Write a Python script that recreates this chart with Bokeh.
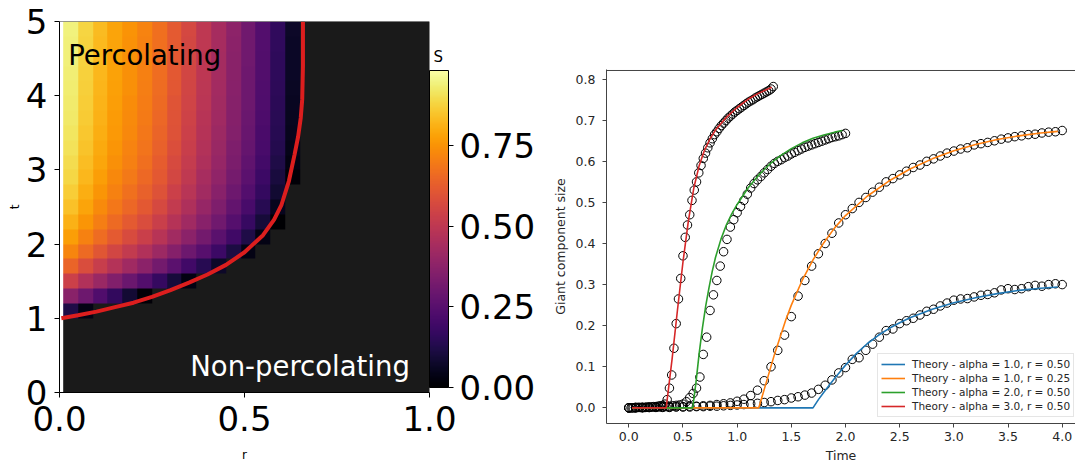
import numpy as np
from bokeh.plotting import figure
from bokeh.models import (LinearColorMapper, ColorBar, FixedTicker, Span,
                          Legend, LegendItem, Range1d, PrintfTickFormatter, Label)
from bokeh.palettes import Inferno256
from bokeh.layouts import row
from bokeh.embed import file_html
from bokeh.resources import INLINE

FONT = "DejaVu Sans"

# ---------------- left panel: S(r, t) heat map ----------------
heat_r_centers = [0.03, 0.07, 0.11, 0.15, 0.19, 0.23, 0.27, 0.31, 0.35, 0.39, 0.43, 0.47, 0.51,
                  0.55, 0.59, 0.63, 0.67, 0.71, 0.75, 0.79, 0.83, 0.87, 0.91, 0.95, 0.99]
heat_t_centers = [0.1, 0.3, 0.5, 0.7, 0.9, 1.1, 1.3, 1.5, 1.7, 1.9, 2.1, 2.3, 2.5, 2.7, 2.9,
                  3.1, 3.3, 3.5, 3.7, 3.9, 4.1, 4.3, 4.5, 4.7, 4.9]
N = None
# rows: t = 1.1 ... 4.9 ; columns: r = 0.03 ... 0.63 (None = non-percolating)
S_table_t = [1.1, 1.3, 1.5, 1.7, 1.9, 2.1, 2.3, 2.5, 2.7, 2.9, 3.1, 3.3, 3.5, 3.7, 3.9,
             4.1, 4.3, 4.5, 4.7, 4.9]
S_table = [
    [0.121, 0.036, N, N, N, N, N, N, N, N, N, N, N, N, N, N],
    [0.372, 0.300, 0.231, 0.164, 0.091, 0.014, N, N, N, N, N, N, N, N, N, N],
    [0.534, 0.466, 0.407, 0.350, 0.293, 0.236, 0.170, 0.100, 0.033, N, N, N, N, N, N, N],
    [0.641, 0.578, 0.524, 0.472, 0.423, 0.375, 0.318, 0.258, 0.199, 0.140, 0.072, N, N, N, N, N],
    [0.719, 0.657, 0.603, 0.554, 0.511, 0.467, 0.416, 0.359, 0.302, 0.247, 0.185, 0.115, 0.035, N, N, N],
    [0.773, 0.712, 0.661, 0.614, 0.573, 0.532, 0.483, 0.428, 0.374, 0.318, 0.257, 0.192, 0.121, 0.036, N, N],
    [0.813, 0.754, 0.703, 0.656, 0.617, 0.578, 0.531, 0.477, 0.423, 0.366, 0.307, 0.243, 0.176, 0.099, 0.003, N],
    [0.843, 0.783, 0.732, 0.687, 0.650, 0.612, 0.565, 0.512, 0.458, 0.401, 0.342, 0.278, 0.213, 0.139, 0.053, N],
    [0.866, 0.805, 0.755, 0.710, 0.673, 0.636, 0.591, 0.537, 0.484, 0.426, 0.367, 0.303, 0.239, 0.167, 0.085, N],
    [0.884, 0.823, 0.773, 0.728, 0.691, 0.655, 0.610, 0.557, 0.503, 0.444, 0.385, 0.322, 0.258, 0.186, 0.106, 0.013],
    [0.896, 0.836, 0.787, 0.741, 0.706, 0.670, 0.624, 0.571, 0.517, 0.458, 0.399, 0.335, 0.271, 0.200, 0.121, 0.031],
    [0.906, 0.846, 0.797, 0.752, 0.716, 0.681, 0.636, 0.582, 0.528, 0.469, 0.409, 0.345, 0.281, 0.211, 0.131, 0.043],
    [0.914, 0.854, 0.805, 0.760, 0.725, 0.689, 0.644, 0.591, 0.536, 0.477, 0.417, 0.353, 0.289, 0.218, 0.139, 0.051],
    [0.921, 0.861, 0.811, 0.766, 0.731, 0.696, 0.651, 0.597, 0.543, 0.483, 0.423, 0.359, 0.295, 0.224, 0.144, 0.057],
    [0.926, 0.866, 0.816, 0.772, 0.736, 0.701, 0.656, 0.602, 0.548, 0.488, 0.428, 0.364, 0.300, 0.228, 0.149, 0.061],
    [0.930, 0.870, 0.820, 0.776, 0.741, 0.705, 0.660, 0.607, 0.552, 0.492, 0.431, 0.367, 0.303, 0.232, 0.152, 0.064],
    [0.933, 0.873, 0.824, 0.779, 0.744, 0.709, 0.664, 0.610, 0.555, 0.495, 0.434, 0.370, 0.305, 0.234, 0.154, 0.066],
    [0.936, 0.876, 0.826, 0.781, 0.746, 0.711, 0.666, 0.612, 0.558, 0.497, 0.437, 0.372, 0.307, 0.236, 0.156, 0.068],
    [0.938, 0.878, 0.828, 0.783, 0.748, 0.713, 0.668, 0.615, 0.560, 0.499, 0.439, 0.374, 0.309, 0.238, 0.158, 0.069],
    [0.940, 0.880, 0.830, 0.785, 0.750, 0.715, 0.670, 0.616, 0.562, 0.501, 0.440, 0.376, 0.310, 0.240, 0.160, 0.070],
]
S_max = 0.982
cbar_ticks = [0.0, 0.25, 0.5, 0.75]

boundary_r = [0.005, 0.05, 0.10, 0.15, 0.20, 0.25, 0.30, 0.35, 0.40, 0.45, 0.50, 0.55, 0.58,
              0.60, 0.62, 0.635, 0.645, 0.652, 0.656, 0.658, 0.658]
boundary_t = [1.00, 1.04, 1.09, 1.15, 1.21, 1.29, 1.38, 1.48, 1.59, 1.72, 1.89, 2.12, 2.33,
              2.53, 2.85, 3.20, 3.45, 3.70, 3.95, 4.40, 5.00]

# ---------------- right panel: giant component vs time ----------------
sim_time_a1 = [0.0, 0.0625, 0.125, 0.1875, 0.25, 0.3125, 0.375, 0.4375, 0.5, 0.5625, 0.625, 0.6875,
               0.75, 0.8125, 0.875, 0.9375, 1.0, 1.0625, 1.125, 1.1875, 1.25, 1.3125, 1.375, 1.4375,
               1.5, 1.5625, 1.625, 1.6875, 1.75, 1.8125, 1.875, 1.9375, 2.0, 2.0625, 2.125, 2.1875,
               2.25, 2.3125, 2.375, 2.4375, 2.5, 2.5625, 2.625, 2.6875, 2.75, 2.8125, 2.875, 2.9375,
               3.0, 3.0625, 3.125, 3.1875, 3.25, 3.3125, 3.375, 3.4375, 3.5, 3.5625, 3.625, 3.6875,
               3.75, 3.8125, 3.875, 3.9375, 4.0]
sim_time_a2 = [0.0, 0.0312, 0.0625, 0.0938, 0.125, 0.1562, 0.1875, 0.2188, 0.25, 0.2812, 0.3125,
               0.3438, 0.375, 0.4062, 0.4375, 0.4688, 0.5, 0.5312, 0.5625, 0.5938, 0.625, 0.6562,
               0.6875, 0.7188, 0.75, 0.7812, 0.8125, 0.8438, 0.875, 0.9062, 0.9375, 0.9688, 1.0,
               1.0312, 1.0625, 1.0938, 1.125, 1.1562, 1.1875, 1.2188, 1.25, 1.2812, 1.3125, 1.3438,
               1.375, 1.4062, 1.4375, 1.4688, 1.5, 1.5312, 1.5625, 1.5938, 1.625, 1.6562, 1.6875,
               1.7188, 1.75, 1.7812, 1.8125, 1.8438, 1.875, 1.9062, 1.9375, 1.9688, 2.0]
sim_time_a3 = [0.0, 0.0208, 0.0417, 0.0625, 0.0833, 0.1042, 0.125, 0.1458, 0.1667, 0.1875, 0.2083,
               0.2292, 0.25, 0.2708, 0.2917, 0.3125, 0.3333, 0.3542, 0.375, 0.3958, 0.4167, 0.4375,
               0.4583, 0.4792, 0.5, 0.5208, 0.5417, 0.5625, 0.5833, 0.6042, 0.625, 0.6458, 0.6667,
               0.6875, 0.7083, 0.7292, 0.75, 0.7708, 0.7917, 0.8125, 0.8333, 0.8542, 0.875, 0.8958,
               0.9167, 0.9375, 0.9583, 0.9792, 1.0, 1.0208, 1.0417, 1.0625, 1.0833, 1.1042, 1.125,
               1.1458, 1.1667, 1.1875, 1.2083, 1.2292, 1.25, 1.2708, 1.2917, 1.3125, 1.3333]

sim_S_a1_r050 = [0.000, 0.000, 0.000, 0.001, 0.001, 0.001, 0.001, 0.002, 0.002, 0.002,
                 0.003, 0.003, 0.004, 0.004, 0.005, 0.006, 0.007, 0.008, 0.010, 0.011,
                 0.013, 0.015, 0.018, 0.020, 0.024, 0.027, 0.031, 0.036, 0.045, 0.055,
                 0.068, 0.085, 0.098, 0.118, 0.122, 0.140, 0.155, 0.172, 0.188, 0.192,
                 0.205, 0.212, 0.218, 0.226, 0.235, 0.240, 0.248, 0.255, 0.262, 0.265,
                 0.266, 0.270, 0.274, 0.276, 0.280, 0.287, 0.290, 0.288, 0.290, 0.295,
                 0.298, 0.296, 0.300, 0.302, 0.300]
sim_S_a1_r025 = [0.000, 0.001, 0.001, 0.001, 0.002, 0.002, 0.002, 0.003, 0.003, 0.004,
                 0.004, 0.005, 0.006, 0.008, 0.010, 0.012, 0.016, 0.021, 0.030, 0.043,
                 0.066, 0.100, 0.140, 0.177, 0.222, 0.272, 0.310, 0.345, 0.375, 0.400,
                 0.425, 0.450, 0.470, 0.485, 0.500, 0.512, 0.525, 0.537, 0.550, 0.558,
                 0.567, 0.576, 0.585, 0.591, 0.600, 0.606, 0.613, 0.620, 0.625, 0.630,
                 0.633, 0.640, 0.643, 0.646, 0.650, 0.654, 0.657, 0.660, 0.662, 0.665,
                 0.666, 0.669, 0.671, 0.672, 0.675]
sim_S_a2_r050 = [0.000, 0.000, 0.000, 0.001, 0.001, 0.001, 0.001, 0.002, 0.002, 0.002,
                 0.003, 0.003, 0.004, 0.005, 0.006, 0.007, 0.009, 0.015, 0.025, 0.035,
                 0.048, 0.075, 0.130, 0.172, 0.237, 0.275, 0.310, 0.345, 0.380, 0.410,
                 0.440, 0.458, 0.475, 0.490, 0.505, 0.520, 0.535, 0.546, 0.555, 0.563,
                 0.572, 0.580, 0.588, 0.595, 0.600, 0.604, 0.609, 0.613, 0.618, 0.622,
                 0.626, 0.630, 0.634, 0.637, 0.640, 0.643, 0.646, 0.649, 0.652, 0.655,
                 0.658, 0.660, 0.662, 0.665, 0.668]
sim_S_a3_r050 = [0.000, 0.000, 0.000, 0.001, 0.001, 0.001, 0.001, 0.001, 0.002, 0.002,
                 0.002, 0.003, 0.003, 0.004, 0.005, 0.006, 0.009, 0.020, 0.048, 0.080,
                 0.145, 0.205, 0.265, 0.315, 0.370, 0.415, 0.445, 0.470, 0.505, 0.530,
                 0.550, 0.572, 0.590, 0.607, 0.620, 0.633, 0.645, 0.655, 0.665, 0.672,
                 0.680, 0.687, 0.693, 0.699, 0.705, 0.710, 0.715, 0.720, 0.724, 0.728,
                 0.732, 0.736, 0.740, 0.744, 0.747, 0.750, 0.754, 0.757, 0.760, 0.763,
                 0.766, 0.769, 0.772, 0.776, 0.782]

th_t_a1_r050 = [0.03, 1.7, 1.75, 1.8, 1.85, 1.9, 1.95, 2.0, 2.1, 2.2, 2.3, 2.4, 2.5, 2.6, 2.8,
                3.0, 3.2, 3.4, 3.6, 3.8, 3.96]
th_S_a1_r050 = [0.0, 0.0, 0.02, 0.038, 0.055, 0.072, 0.088, 0.104, 0.132, 0.156, 0.176, 0.193,
                0.207, 0.22, 0.24, 0.256, 0.268, 0.278, 0.286, 0.291, 0.294]
th_t_a1_r025 = [0.03, 1.2, 1.25, 1.3, 1.35, 1.4, 1.45, 1.5, 1.6, 1.7, 1.8, 1.9, 2.0, 2.2, 2.4,
                2.6, 2.8, 3.0, 3.2, 3.4, 3.6, 3.8, 3.96]
th_S_a1_r025 = [0.0, 0.0, 0.045, 0.09, 0.135, 0.175, 0.215, 0.25, 0.31, 0.36, 0.402, 0.438,
                0.468, 0.515, 0.552, 0.582, 0.606, 0.626, 0.641, 0.653, 0.662, 0.669, 0.673]
th_t_a2_r050 = [0.03, 0.59, 0.62, 0.65, 0.68, 0.71, 0.74, 0.77, 0.8, 0.85, 0.9, 0.95, 1.0, 1.1,
                1.2, 1.3, 1.4, 1.5, 1.6, 1.7, 1.8, 1.9, 1.97]
th_S_a2_r050 = [0.0, 0.0, 0.062, 0.134, 0.195, 0.248, 0.292, 0.332, 0.366, 0.41, 0.445, 0.472,
                0.495, 0.535, 0.567, 0.593, 0.614, 0.631, 0.645, 0.656, 0.664, 0.671, 0.675]
th_t_a3_r050 = [0.03, 0.345, 0.4, 0.45, 0.5, 0.55, 0.6, 0.65, 0.7, 0.75, 0.8, 0.9, 1.0, 1.1,
                1.2, 1.3, 1.32]
th_S_a3_r050 = [0.0, 0.0, 0.12, 0.24, 0.355, 0.455, 0.535, 0.59, 0.628, 0.655, 0.676, 0.707,
                0.731, 0.751, 0.766, 0.778, 0.78]

legend_labels = ["Theory - alpha = 1.0, r = 0.50", "Theory - alpha = 1.0, r = 0.25",
                 "Theory - alpha = 2.0, r = 0.50", "Theory - alpha = 3.0, r = 0.50"]
line_colors = ["#1f77b4", "#ff7f0e", "#2ca02c", "#d62728"]
x_ticks_right = [0.0, 0.5, 1.0, 1.5, 2.0, 2.5, 3.0, 3.5, 4.0]
y_ticks_right = [0.0, 0.1, 0.2, 0.3, 0.4, 0.5, 0.6, 0.7, 0.8]


def no_frame_align(fig):
    try:
        fig.frame_align = False
    except Exception:
        pass


# ================= build left figure =================
grid = np.full((len(heat_t_centers), len(heat_r_centers)), np.nan)
for t_val, vals in zip(S_table_t, S_table):
    i = heat_t_centers.index(t_val)
    for j, v in enumerate(vals):
        if v is not None:
            grid[i, j] = v
cell_r = heat_r_centers[1] - heat_r_centers[0]
cell_t = heat_t_centers[1] - heat_t_centers[0]

mapper = LinearColorMapper(palette=Inferno256, low=0.0, high=S_max, nan_color="#1a1a1a")

p1 = figure(width=540, height=465, x_range=Range1d(0, 1), y_range=Range1d(0, 5),
            output_backend="svg", toolbar_location=None,
            min_border_left=59, min_border_right=111, min_border_top=21, min_border_bottom=73)
no_frame_align(p1)
p1.grid.visible = False
p1.outline_line_color = None
p1.image(image=[grid], x=heat_r_centers[0] - cell_r / 2, y=heat_t_centers[0] - cell_t / 2,
         dw=cell_r * len(heat_r_centers), dh=cell_t * len(heat_t_centers), color_mapper=mapper)
p1.line(boundary_r, boundary_t, line_color="#dc1e1e", line_width=4)

p1.add_layout(Label(x=0.0235, y=4.555, text="Percolating", text_font=FONT, text_font_size="27.5px",
                    text_color="black", text_baseline="alphabetic"))
p1.add_layout(Label(x=0.3535, y=0.354, text="Non-percolating", text_font=FONT,
                    text_font_size="27.5px", text_color="white", text_baseline="alphabetic"))
p1.add_layout(Span(location=5, dimension="width", line_color="#333333", line_width=1))

p1.xaxis.ticker = FixedTicker(ticks=[0.0, 0.5, 1.0])
p1.xaxis.formatter = PrintfTickFormatter(format="%.1f")
p1.yaxis.ticker = FixedTicker(ticks=[0, 1, 2, 3, 4, 5])
p1.yaxis.formatter = PrintfTickFormatter(format="%d")
p1.xaxis.axis_label = "r"
p1.yaxis.axis_label = "t"
for ax in (p1.xaxis, p1.yaxis):
    ax.major_label_text_font = FONT
    ax.major_label_text_font_size = "34px"
    ax.major_label_text_color = "black"
    ax.major_tick_out = 5
    ax.major_tick_in = 0
    ax.minor_tick_out = 0
    ax.minor_tick_in = 0
    ax.axis_line_color = "black"
    ax.major_tick_line_color = "black"
    ax.axis_label_text_font = FONT
    ax.axis_label_text_font_size = "12px"
    ax.axis_label_text_font_style = "normal"
    ax.axis_label_text_color = "black"
p1.xaxis.major_label_standoff = 8
p1.xaxis.axis_label_standoff = 14
p1.yaxis.major_label_standoff = 7
p1.yaxis.axis_label_standoff = 1

cbar = ColorBar(color_mapper=mapper, ticker=FixedTicker(ticks=cbar_ticks),
                formatter=PrintfTickFormatter(format="%.2f"),
                major_label_text_font=FONT, major_label_text_font_size="34px",
                major_label_text_color="black",
                width=19, height=317, padding=0, margin=0, location=(370, 5),
                major_tick_in=0, major_tick_out=5, major_tick_line_color="black",
                minor_tick_out=0, minor_tick_in=0,
                bar_line_color="black", bar_line_width=1, label_standoff=6,
                border_line_color=None, background_fill_color=None)
p1.add_layout(cbar)

# colour-bar caption "S": title of an invisible horizontal colour bar placed above the bar
s_caption = ColorBar(color_mapper=mapper, orientation="horizontal", width=12, height=1,
                     location=(374, 326), padding=0, margin=0, title="S",
                     title_text_font=FONT, title_text_font_size="15px",
                     title_text_font_style="normal", title_text_color="black", title_standoff=0,
                     ticker=FixedTicker(ticks=[]), major_label_text_font_size="0px",
                     major_tick_line_color=None, minor_tick_line_color=None,
                     scale_alpha=0, bar_line_color=None, border_line_color=None,
                     background_fill_color=None)
p1.add_layout(s_caption)

# ================= build right figure =================
X_LO, X_HI = -0.2058, 4.1228
Y_LO, Y_HI = -0.0381, 0.8211
p2 = figure(width=535, height=465, x_range=Range1d(X_LO, X_HI), y_range=Range1d(Y_LO, Y_HI + 0.0024),
            output_backend="svg", toolbar_location=None,
            min_border_left=66, min_border_right=0, min_border_top=69, min_border_bottom=42)
no_frame_align(p2)
p2.grid.visible = False
p2.outline_line_color = None

for ts, ss in ((sim_time_a1, sim_S_a1_r050), (sim_time_a1, sim_S_a1_r025),
               (sim_time_a2, sim_S_a2_r050), (sim_time_a3, sim_S_a3_r050)):
    p2.scatter(ts, ss, marker="circle", size=8.5, fill_color=None, line_color="black",
               line_width=1)

th_sets = [(th_t_a1_r050, th_S_a1_r050), (th_t_a1_r025, th_S_a1_r025),
           (th_t_a2_r050, th_S_a2_r050), (th_t_a3_r050, th_S_a3_r050)]
line_renderers = []
for (tt, sv), col in zip(th_sets, line_colors):
    line_renderers.append(p2.line(tt, sv, line_color=col, line_width=1.6))

p2.add_layout(Span(location=Y_HI, dimension="width", line_color="#444444", line_width=1))

legend = Legend(items=[LegendItem(label=lab, renderers=[r]) for lab, r in zip(legend_labels, line_renderers)],
                location=(271, 6), label_text_font=FONT, label_text_font_size="10.5px",
                label_text_color="#262626", glyph_width=24, glyph_height=14, label_height=14,
                label_standoff=7, spacing=0, padding=3, margin=0,
                border_line_color="#cccccc", border_line_width=1, background_fill_alpha=0.8)
p2.add_layout(legend)

p2.xaxis.ticker = FixedTicker(ticks=x_ticks_right)
p2.xaxis.formatter = PrintfTickFormatter(format="%.1f")
p2.yaxis.ticker = FixedTicker(ticks=y_ticks_right)
p2.yaxis.formatter = PrintfTickFormatter(format="%.1f")
p2.xaxis.axis_label = "Time"
p2.yaxis.axis_label = "Giant component size"
for ax in (p2.xaxis, p2.yaxis):
    ax.major_label_text_font = FONT
    ax.major_label_text_font_size = "12.5px"
    ax.major_label_text_color = "#262626"
    ax.major_tick_out = 4
    ax.major_tick_in = 0
    ax.minor_tick_out = 0
    ax.minor_tick_in = 0
    ax.axis_line_color = "#444444"
    ax.major_tick_line_color = "#444444"
    ax.axis_label_text_font = FONT
    ax.axis_label_text_font_size = "12.5px"
    ax.axis_label_text_font_style = "normal"
    ax.axis_label_text_color = "#262626"
p2.xaxis.major_label_standoff = 4
p2.xaxis.axis_label_standoff = 4
p2.yaxis.major_label_standoff = 7
p2.yaxis.axis_label_standoff = 5

layout = row(p1, p2)
open("out.html", "w").write(file_html(layout, INLINE))
